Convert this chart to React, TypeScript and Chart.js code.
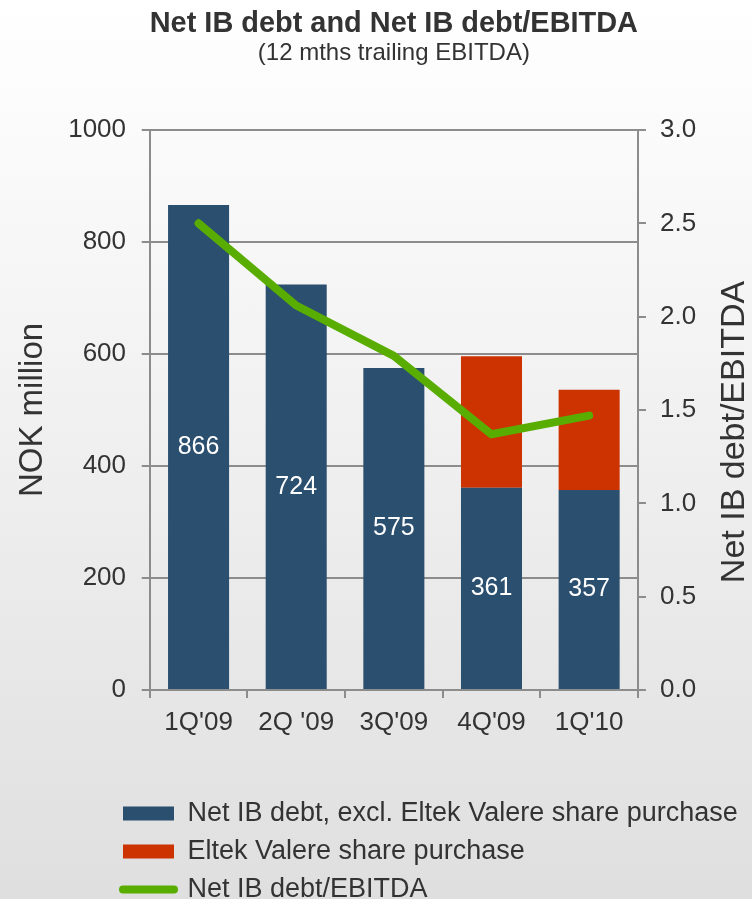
import React, { useEffect, useRef } from "react";
import { Chart, registerables } from "chart.js";

Chart.register(...registerables);

const categories = ["1Q'09", "2Q '09", "3Q'09", "4Q'09", "1Q'10"];
const netDebtExcl = [866, 724, 575, 361, 357];
const sharePurchase = [null, null, null, 235, 179];
const debtToEbitda = [2.5, 2.06, 1.79, 1.37, 1.47];
const leftTicks = [0, 200, 400, 600, 800, 1000];
const rightTicks = [0, 0.5, 1.0, 1.5, 2.0, 2.5, 3.0];

const seriesNames = [
  "Net IB debt, excl. Eltek Valere share purchase",
  "Eltek Valere share purchase",
  "Net IB debt/EBITDA",
];
const rightAxisTitle = "Net IB debt/EBITDA";

const FONT = '"Liberation Sans", Arial, Helvetica, sans-serif';
const TEXT = "#333333";
const GRID = "#8c8c8c";
const BLUE = "#2b4f6e";
const RED = "#cc3300";
const GREEN = "#58ad00";

const barLabels = {
  id: "barLabels",
  afterDatasetsDraw(chart: any) {
    const meta = chart.getDatasetMeta(0);
    const ctx = chart.ctx;
    ctx.save();
    ctx.font = `25px ${FONT}`;
    ctx.fillStyle = "#ffffff";
    ctx.textAlign = "center";
    ctx.textBaseline = "middle";
    meta.data.forEach((el: any, i: number) => {
      const p = el.getProps(["x", "y", "base"], true);
      ctx.fillText(String(netDebtExcl[i]), p.x, (p.y + p.base) / 2);
    });
    ctx.restore();
  },
};

// right axis title, reading bottom-to-top like the left one
const rightTitle = {
  id: "rightTitle",
  afterDraw(chart: any) {
    const ctx = chart.ctx;
    const sc = chart.scales.y1;
    ctx.save();
    ctx.font = `34px ${FONT}`;
    ctx.fillStyle = TEXT;
    ctx.textAlign = "center";
    ctx.textBaseline = "middle";
    ctx.translate(sc.right + 25, (sc.top + sc.bottom) / 2 + 22);
    ctx.rotate(-Math.PI / 2);
    ctx.fillText(rightAxisTitle, 0, 0);
    ctx.restore();
  },
};

const legendPlacer = {
  id: "legendPlacer",
  afterLayout(chart: any) {
    const lg = chart.legend;
    if (!lg) return;
    lg.left = 112;
    lg.top = 789;
    lg.right = chart.width;
    lg.bottom = chart.height;
    lg.width = lg.right - lg.left;
    lg.height = lg.bottom - lg.top;
  },
};

export default function App() {
  const ref = useRef<HTMLCanvasElement | null>(null);

  useEffect(() => {
    if (!ref.current) return;
    const chart = new Chart(ref.current, {
      type: "bar",
      data: {
        labels: categories,
        datasets: [
          {
            type: "bar",
            label: seriesNames[0],
            data: netDebtExcl,
            backgroundColor: BLUE,
            borderWidth: 0,
            yAxisID: "y",
            order: 1,
            barPercentage: 0.625,
            categoryPercentage: 1,
          },
          {
            type: "bar",
            label: seriesNames[1],
            data: sharePurchase as any,
            backgroundColor: RED,
            borderWidth: 0,
            yAxisID: "y",
            order: 1,
            barPercentage: 0.625,
            categoryPercentage: 1,
          },
          {
            type: "line",
            label: seriesNames[2],
            data: debtToEbitda,
            borderColor: GREEN,
            backgroundColor: GREEN,
            borderWidth: 8,
            borderCapStyle: "round",
            borderJoinStyle: "round",
            pointRadius: 0,
            tension: 0,
            yAxisID: "y1",
            order: 0,
          } as any,
        ],
      },
      options: {
        animation: false,
        responsive: true,
        maintainAspectRatio: false,
        devicePixelRatio: 1,
        layout: { padding: { left: 16.5, right: 41.9, top: 0, bottom: 26.8 } },
        scales: {
          x: {
            stacked: true,
            offset: true,
            grid: {
              display: true,
              drawOnChartArea: false,
              drawTicks: true,
              tickLength: 8,
              color: GRID,
              lineWidth: 2,
            },
            border: { display: true, color: GRID, width: 2 },
            ticks: {
              color: TEXT,
              font: { family: FONT, size: 26, lineHeight: 1.2 },
              padding: 9.5,
              maxRotation: 0,
              autoSkip: false,
            },
          },
          y: {
            stacked: true,
            position: "left",
            min: 0,
            max: 1000,
            afterBuildTicks: (axis: any) => {
              axis.ticks = leftTicks.map((v) => ({ value: v }));
            },
            grid: {
              color: GRID,
              lineWidth: 2,
              drawTicks: true,
              tickLength: 8,
            },
            border: { display: true, color: GRID, width: 2 },
            ticks: {
              color: TEXT,
              font: { family: FONT, size: 26 },
              padding: 15.7,
              callback: (v: any) => String(v),
            },
            title: {
              display: true,
              text: "NOK million",
              color: TEXT,
              font: { family: FONT, size: 33, lineHeight: 1.0 },
              padding: { top: 0, bottom: 3 },
            },
          },
          y1: {
            position: "right",
            min: 0,
            max: 3,
            afterBuildTicks: (axis: any) => {
              axis.ticks = rightTicks.map((v) => ({ value: v }));
            },
            grid: {
              drawOnChartArea: false,
              color: GRID,
              lineWidth: 2,
              drawTicks: true,
              tickLength: 8,
            },
            border: { display: true, color: GRID, width: 2 },
            ticks: {
              color: TEXT,
              font: { family: FONT, size: 26 },
              padding: 14,
              callback: (v: any) => Number(v).toFixed(1),
            },
          },
        },
        plugins: {
          title: {
            display: true,
            text: "Net IB debt and Net IB debt/EBITDA",
            color: TEXT,
            fullSize: false,
            font: { family: FONT, size: 29, weight: "bold", lineHeight: 1.2 },
            padding: { top: 7, bottom: 0 },
          },
          subtitle: {
            display: true,
            text: "(12 mths trailing EBITDA)",
            color: TEXT,
            fullSize: false,
            font: { family: FONT, size: 24, lineHeight: 1.0 },
            padding: { top: 0, bottom: 64.2 },
          },
          legend: {
            display: true,
            position: "bottom",
            align: "start",
            fullSize: false,
            labels: {
              usePointStyle: true,
              pointStyleWidth: 51,
              boxHeight: 14,
              padding: 11,
              color: TEXT,
              font: { family: FONT, size: 27 },
              generateLabels: (c: any) =>
                c.data.datasets.map((ds: any, i: number) => {
                  const isLine = ds.type === "line";
                  return {
                    text: ds.label,
                    fillStyle: isLine ? "rgba(0,0,0,0)" : ds.backgroundColor,
                    strokeStyle: isLine ? ds.borderColor : "rgba(0,0,0,0)",
                    lineWidth: isLine ? 8 : 0,
                    lineCap: "round",
                    pointStyle: isLine ? "line" : "rect",
                    hidden: false,
                    datasetIndex: i,
                    fontColor: TEXT,
                  };
                }),
            },
          },
          tooltip: { enabled: false },
        },
      } as any,
      plugins: [barLabels, rightTitle, legendPlacer],
    });
    return () => chart.destroy();
  }, []);

  return (
    <div
      style={{
        position: "fixed",
        left: 0,
        top: 0,
        width: 752,
        height: 899,
        background: "linear-gradient(to bottom, #ffffff 0%, #f6f6f6 30%, #dfdfdf 100%)",
      }}
    >
      <canvas ref={ref} />
    </div>
  );
}
